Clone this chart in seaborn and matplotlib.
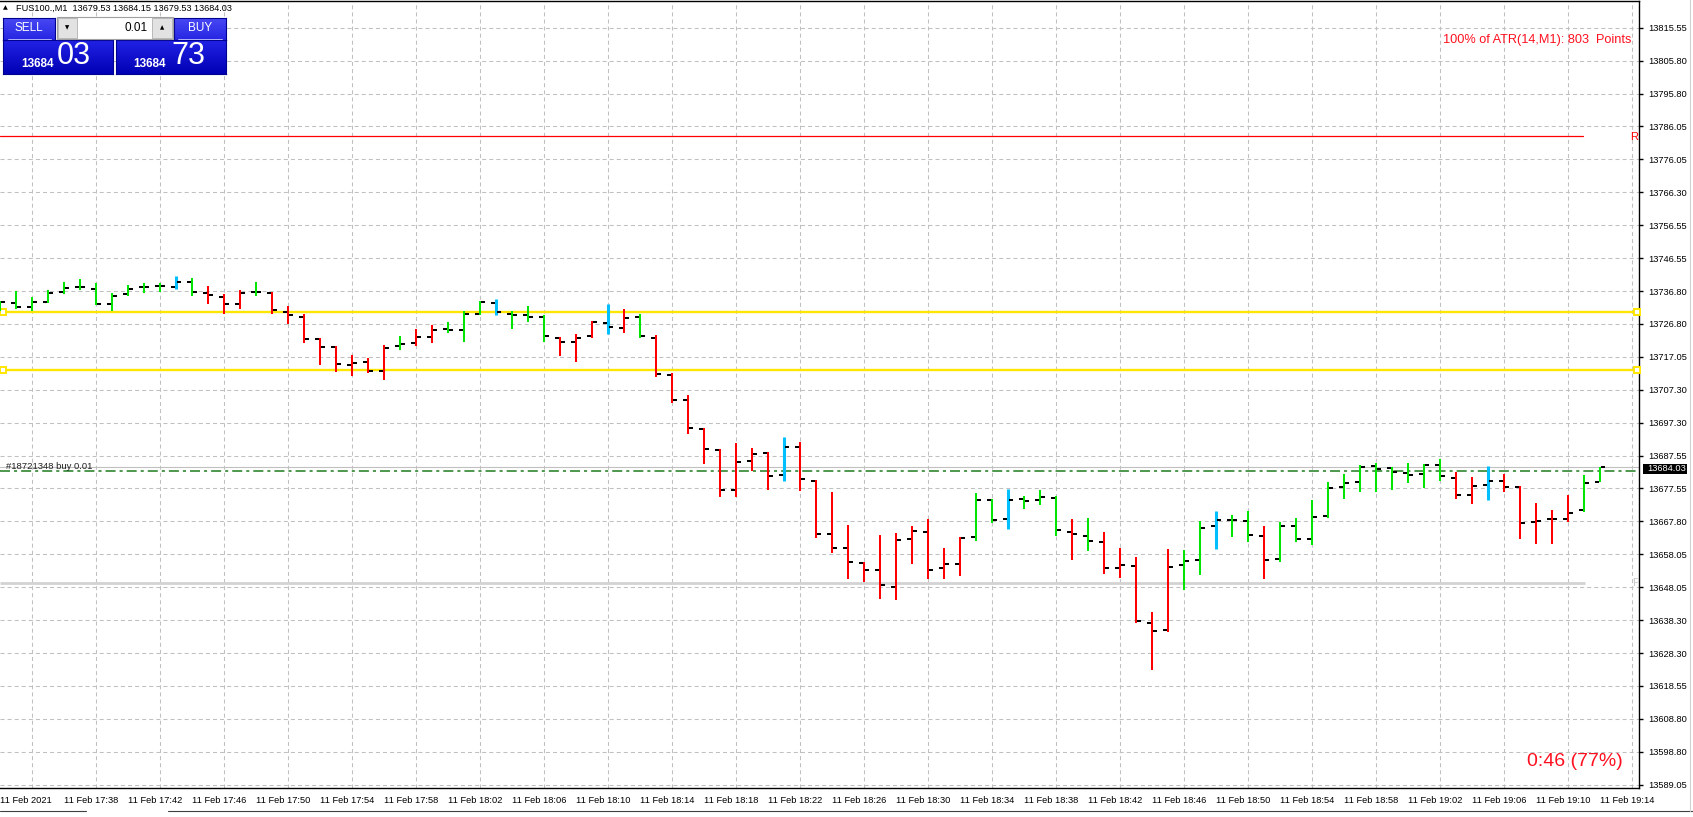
import numpy as np
import pandas as pd
import matplotlib
matplotlib.use("Agg")
import matplotlib.pyplot as plt
from matplotlib.patches import Rectangle
from matplotlib.colors import LinearSegmentedColormap
import seaborn as sns

# ---------------- data ----------------
OPEN = [13732.6, 13733.3, 13732.1, 13733.6, 13736.5, 13738.0, 13737.4, 13733.0, 13735.9, 13738.0,
        13738.4, 13738.0, 13739.5, 13736.2, 13735.1, 13733.0, 13736.5, 13736.2, 13730.6, 13729.1,
        13722.4, 13720.1, 13714.7, 13715.6, 13712.8, 13720.4, 13721.2, 13723.0, 13725.4, 13725.1,
        13730.0, 13733.2, 13730.0, 13729.7, 13729.0, 13722.8, 13721.6, 13723.3, 13727.3, 13725.8,
        13729.1, 13722.7, 13711.6, 13704.1, 13695.4, 13689.1, 13677.2, 13685.9, 13688.3, 13681.7,
        13690.0, 13679.9, 13664.0, 13659.8, 13655.3, 13653.2, 13648.1, 13662.6, 13664.7, 13653.8,
        13655.0, 13663.1, 13674.2, 13668.5, 13674.5, 13674.2, 13674.8, 13664.6, 13663.4, 13661.6,
        13653.8, 13654.4, 13637.4, 13635.3, 13654.7, 13656.2, 13666.4, 13668.2, 13667.9, 13663.4,
        13656.5, 13666.4, 13662.5, 13669.4, 13678.1, 13679.6, 13684.4, 13683.8, 13682.3, 13682.0,
        13684.7, 13680.8, 13675.7, 13678.7, 13679.9, 13678.1, 13667.6, 13668.5, 13668.5, 13671.2,
        13679.53]
HIGH = [13733.9, 13736.7, 13734.9, 13737.0, 13739.4, 13740.3, 13739.2, 13736.2, 13738.5, 13739.1,
        13739.1, 13741.2, 13740.6, 13738.2, 13735.9, 13737.0, 13739.4, 13736.5, 13732.3, 13730.0,
        13722.7, 13720.3, 13717.6, 13716.8, 13720.6, 13723.3, 13725.4, 13726.6, 13727.5, 13730.8,
        13733.7, 13734.3, 13730.8, 13732.3, 13729.5, 13723.0, 13723.9, 13727.8, 13732.9, 13731.4,
        13729.9, 13723.6, 13712.3, 13705.6, 13695.7, 13689.4, 13691.2, 13689.7, 13688.6, 13693.0,
        13691.5, 13680.2, 13676.6, 13666.7, 13655.6, 13663.7, 13664.3, 13666.4, 13668.5, 13659.8,
        13663.1, 13676.3, 13674.5, 13677.5, 13675.4, 13677.2, 13675.4, 13668.5, 13668.8, 13664.6,
        13659.8, 13657.1, 13640.6, 13659.5, 13659.2, 13667.9, 13670.9, 13669.7, 13670.9, 13666.4,
        13667.6, 13668.8, 13674.2, 13679.6, 13682.0, 13684.7, 13685.3, 13684.1, 13685.3, 13685.0,
        13686.5, 13682.7, 13681.1, 13684.4, 13682.0, 13678.4, 13673.3, 13671.2, 13675.7, 13681.7,
        13684.15]
LOW = [13730.9, 13731.3, 13730.9, 13733.1, 13736.0, 13737.2, 13732.5, 13730.9, 13735.4, 13736.2,
       13736.5, 13737.3, 13735.4, 13733.0, 13730.0, 13731.5, 13735.4, 13730.0, 13726.9, 13721.3,
       13714.6, 13712.6, 13711.3, 13712.3, 13710.1, 13719.2, 13720.3, 13721.3, 13724.3, 13721.6,
       13729.5, 13729.5, 13725.4, 13727.5, 13721.6, 13717.3, 13715.6, 13722.8, 13724.0, 13724.3,
       13722.8, 13711.1, 13703.3, 13693.9, 13685.0, 13675.2, 13675.2, 13682.8, 13677.2, 13679.8,
       13676.9, 13662.8, 13658.3, 13650.5, 13649.6, 13644.5, 13644.2, 13655.0, 13650.5, 13650.5,
       13651.4, 13661.9, 13667.3, 13665.5, 13671.5, 13672.7, 13663.4, 13656.2, 13658.9, 13652.0,
       13650.8, 13637.4, 13623.3, 13634.7, 13647.2, 13651.7, 13659.6, 13663.1, 13661.6, 13650.5,
       13655.6, 13661.6, 13660.7, 13668.8, 13674.5, 13676.6, 13676.6, 13677.2, 13679.3, 13677.8,
       13679.9, 13674.5, 13673.0, 13674.3, 13676.6, 13662.5, 13661.0, 13661.0, 13667.6, 13670.6,
       13679.53]
CLOSE = [13733.6, 13732.1, 13733.6, 13736.2, 13737.7, 13738.0, 13733.0, 13735.4, 13737.4, 13738.0,
         13738.4, 13739.5, 13736.5, 13735.6, 13733.0, 13736.2, 13736.5, 13731.1, 13729.7, 13722.4,
         13720.0, 13715.0, 13715.2, 13712.8, 13719.7, 13720.9, 13723.0, 13725.1, 13725.1, 13729.8,
         13733.4, 13730.5, 13729.7, 13729.0, 13723.3, 13721.6, 13722.8, 13727.6, 13726.1, 13728.8,
         13723.3, 13711.9, 13704.1, 13695.7, 13689.5, 13677.2, 13685.6, 13688.0, 13681.4, 13690.0,
         13680.5, 13664.0, 13659.8, 13655.6, 13653.2, 13648.7, 13662.2, 13665.0, 13653.2, 13655.0,
         13662.8, 13674.2, 13668.2, 13674.2, 13673.9, 13675.1, 13665.2, 13664.0, 13661.9, 13653.8,
         13654.7, 13638.0, 13635.0, 13654.1, 13655.9, 13665.8, 13668.2, 13668.2, 13663.7, 13656.2,
         13666.4, 13662.5, 13669.1, 13677.8, 13679.3, 13684.1, 13683.5, 13682.6, 13681.7, 13684.7,
         13681.4, 13675.7, 13678.4, 13679.9, 13678.1, 13667.3, 13667.9, 13668.5, 13670.3, 13679.3,
         13684.03]
BAR_COLOR = list("gggggggggg" "gbgrrrgrrr" "rrrrrgrrgg" "gbgggrrrbr" "grrrrrrrrb"
                 "rrrrrrrrrr" "rggbgggrgr" "rrrrggbggr" "gggggggggg" "grrbrrrrrg" "g")

X_TICK_LABELS = ["11 Feb 2021", "11 Feb 17:38", "11 Feb 17:42", "11 Feb 17:46", "11 Feb 17:50",
                 "11 Feb 17:54", "11 Feb 17:58", "11 Feb 18:02", "11 Feb 18:06", "11 Feb 18:10",
                 "11 Feb 18:14", "11 Feb 18:18", "11 Feb 18:22", "11 Feb 18:26", "11 Feb 18:30",
                 "11 Feb 18:34", "11 Feb 18:38", "11 Feb 18:42", "11 Feb 18:46", "11 Feb 18:50",
                 "11 Feb 18:54", "11 Feb 18:58", "11 Feb 19:02", "11 Feb 19:06", "11 Feb 19:10",
                 "11 Feb 19:14"]
Y_TICK_LABELS = ["13815.55", "13805.80", "13795.80", "13786.05", "13776.05", "13766.30",
                 "13756.55", "13746.55", "13736.80", "13726.80", "13717.05", "13707.30",
                 "13697.30", "13687.55", "13677.55", "13667.80", "13658.05", "13648.05",
                 "13638.30", "13628.30", "13618.55", "13608.80", "13598.80", "13589.05"]

RESIST_LEVEL = 13783.05
YELLOW_LEVELS = [13730.56, 13713.15]
BID = 13684.03
ORDER_LEVEL = 13682.8
PIVOT_LEVEL = 13649.4

# ---------------- style ----------------
sns.set_theme(style="white")
plt.rcParams["font.family"] = ["Liberation Sans", "DejaVu Sans"]
plt.rcParams["lines.scale_dashes"] = False

PALETTE = {"g": "#00E600", "r": "#FF0000", "b": "#00BFFF"}
YELLOW = "#FFE600"

W, H = 1693, 817
fig = plt.figure(figsize=(W / 100, H / 100), dpi=100)
fig.patch.set_facecolor("white")

AX_RIGHT_PX = 1639
AX_BOTTOM_PX = 788
ax = fig.add_axes([0, (H - AX_BOTTOM_PX) / H, AX_RIGHT_PX / W, (AX_BOTTOM_PX - 1) / H])
ax.set_facecolor("white")

BAR_PX = 16.0
BAR0_PX = 0.4


def px2x(px):
    return (px - BAR0_PX) / BAR_PX


def ftext(x, y, s, **kw):
    return fig.text(x / W, 1 - y / H, s, **kw)


def frect(x0, y0, x1, y1, **kw):
    r = Rectangle((x0 / W, 1 - y1 / H), (x1 - x0) / W, (y1 - y0) / H,
                  transform=fig.transFigure, **kw)
    fig.add_artist(r)
    return r


# y scale: evenly spaced tick labels
top_val = float(Y_TICK_LABELS[0])
step = (float(Y_TICK_LABELS[0]) - float(Y_TICK_LABELS[-1])) / (len(Y_TICK_LABELS) - 1)
px_per_price = 32.914 / step
TOP_LABEL_PX = 27.7
y_hi = top_val + (TOP_LABEL_PX - 1) / px_per_price
y_lo = top_val - (AX_BOTTOM_PX - TOP_LABEL_PX) / px_per_price
ax.set_ylim(y_lo, y_hi)
ax.set_xlim(px2x(0), px2x(AX_RIGHT_PX))

ytick_pos = [top_val - k * step for k in range(len(Y_TICK_LABELS))]
ax.yaxis.tick_right()
ax.set_yticks(ytick_pos)
ax.set_yticklabels(Y_TICK_LABELS)

n = len(OPEN)
ax.set_xticks(np.arange(0, n, 4))
ax.set_xticklabels(X_TICK_LABELS, ha="left")
ax.set_xticks(np.arange(0, n + 2, 2), minor=True)

ax.tick_params(axis="x", which="major", direction="out", length=3.5, width=1,
               pad=2, labelsize=6.7, colors="black")
ax.tick_params(axis="x", which="minor", length=0)
ax.tick_params(axis="y", direction="out", length=3, width=1, pad=3.5,
               labelsize=6.7, colors="black")
for lab in ax.get_yticklabels():
    lab.set_horizontalalignment("left")

ax.grid(True, which="minor", axis="x", color="#C0C0C0", lw=0.75, ls=(0, (2.9, 2.2)))
ax.grid(True, which="major", axis="y", color="#C0C0C0", lw=0.75, ls=(0, (2.9, 2.2)))
ax.grid(False, which="major", axis="x")
ax.set_axisbelow(True)

for side in ["top", "right", "bottom"]:
    ax.spines[side].set_visible(True)
    ax.spines[side].set_color("black")
    ax.spines[side].set_linewidth(1.0)
ax.spines["left"].set_visible(False)

# ---------------- horizontal objects ----------------
ax.plot([px2x(0), px2x(1583)], [RESIST_LEVEL] * 2, color="red", lw=0.9, zorder=2)
ax.plot([px2x(0), px2x(1585)], [PIVOT_LEVEL] * 2, color="#D3D3D3", lw=2.0, zorder=2,
        solid_capstyle="butt")
ax.axhline(BID, color="#C0C0C0", lw=0.8, zorder=2)
ax.axhline(ORDER_LEVEL, color="#1E7B1E", lw=1.1, ls=(0, (7.2, 2.9, 2.2, 2.9)), zorder=2)
for lvl in YELLOW_LEVELS:
    ax.axhline(lvl, color=YELLOW, lw=1.7, zorder=2)
    ax.plot([px2x(3), px2x(1637)], [lvl, lvl], ls="none", marker="s", ms=4.6,
            mfc="white", mec=YELLOW, mew=1.4, clip_on=False, zorder=3)

# ---------------- OHLC bars ----------------
seg_rows = []
for i in range(n):
    seg_rows.append(dict(bar=i, x=i, price=LOW[i], kind=BAR_COLOR[i]))
    seg_rows.append(dict(bar=i, x=i, price=HIGH[i], kind=BAR_COLOR[i]))
seg = pd.DataFrame(seg_rows)
for kind, lw in [("g", 1.45), ("r", 1.45), ("b", 2.2)]:
    sub = seg[seg["kind"] == kind]
    sns.lineplot(data=sub, x="x", y="price", units="bar", estimator=None, sort=False,
                 color=PALETTE[kind], lw=lw, ax=ax, legend=False,
                 solid_capstyle="butt", zorder=4)

tick_rows = []
for i in range(n):
    tick_rows.append(dict(unit=f"o{i}", x=i - 0.31, price=OPEN[i]))
    tick_rows.append(dict(unit=f"o{i}", x=i - 0.06, price=OPEN[i]))
    tick_rows.append(dict(unit=f"c{i}", x=i + 0.04, price=CLOSE[i]))
    tick_rows.append(dict(unit=f"c{i}", x=i + 0.29, price=CLOSE[i]))
ticks = pd.DataFrame(tick_rows)
sns.lineplot(data=ticks, x="x", y="price", units="unit", estimator=None, sort=False,
             color="black", lw=1.45, ax=ax, legend=False, solid_capstyle="butt", zorder=5)
ax.set_xlabel("")
ax.set_ylabel("")

# ---------------- chart texts ----------------
ax.text(px2x(6), ORDER_LEVEL, "#18721348 buy 0.01", fontsize=6.8, color="#202020",
        ha="left", va="bottom")
ax.text(px2x(1632), PIVOT_LEVEL, "PP", fontsize=8, color="#C8C8C8", ha="left",
        va="center", clip_on=True)
ftext(1634, 137, "R", fontsize=8, color="red", ha="center", va="center")
ftext(1631, 39.5, "100% of ATR(14,M1): 803  Points", fontsize=9.2, color="#FF1020",
      ha="right", va="center")
ftext(1623, 762, "0:46 (77%)", fontsize=14, color="#FF1020", ha="right", va="center")

# current price label on axis
frect(1643, 464, 1687, 473.5, facecolor="black", edgecolor="none")
ftext(1647, 468.7, f"{BID:.2f}", fontsize=6.7, color="white", ha="left", va="center")

# header
ftext(5, 8, "\u25B2", fontsize=4.5, color="black", ha="center", va="center",
      family=["DejaVu Sans"])
ftext(16, 8, "FUS100.,M1  13679.53 13684.15 13679.53 13684.03", fontsize=6.6,
      color="black", ha="left", va="center")


# ---------------- one-click trading panel ----------------
def grad_box(x0, y0, x1, y1, ctop, cbot, edge="#000090"):
    a = fig.add_axes([x0 / W, 1 - y1 / H, (x1 - x0) / W, (y1 - y0) / H])
    cmap = LinearSegmentedColormap.from_list("g", [cbot, ctop])
    a.imshow(np.linspace(0, 1, 50).reshape(-1, 1)[::-1], aspect="auto", cmap=cmap,
             extent=[0, 1, 0, 1])
    a.set_xticks([])
    a.set_yticks([])
    for s in a.spines.values():
        s.set_color(edge)
        s.set_linewidth(0.8)
    return a


grad_box(3, 18, 55, 40, "#4848F4", "#2626E4")
grad_box(174, 18, 226, 40, "#4848F4", "#2626E4")
grad_box(3, 40, 113, 74, "#2222E6", "#0000B4")
grad_box(116, 40, 226, 74, "#2222E6", "#0000B4")

frect(57, 17, 173, 38.5, facecolor="white", edgecolor="#A0A0A0", lw=0.8)
frect(58, 18, 77, 37.5, facecolor="#E2E2E2", edgecolor="#B0B0B0", lw=0.6)
frect(152, 18, 172, 37.5, facecolor="#E2E2E2", edgecolor="#B0B0B0", lw=0.6)
ftext(67.5, 27.5, "\u25BC", fontsize=4, color="black", ha="center", va="center",
      family=["DejaVu Sans"])
ftext(162, 27.5, "\u25B2", fontsize=4, color="black", ha="center", va="center",
      family=["DejaVu Sans"])
ftext(148, 27.8, "0.01", fontsize=8.5, color="black", ha="right", va="center")

ftext(29, 28, "SELL", fontsize=8.5, color="white", ha="center", va="center")
ftext(200, 28, "BUY", fontsize=8.5, color="white", ha="center", va="center")
fig.add_artist(plt.Line2D([8 / W, 51 / W], [1 - 38.5 / H] * 2, color="#C8C8FF", lw=0.6,
                          transform=fig.transFigure))
fig.add_artist(plt.Line2D([178 / W, 222 / W], [1 - 38.5 / H] * 2, color="#C8C8FF", lw=0.6,
                          transform=fig.transFigure))

ftext(38, 64, "13684", fontsize=8.5, color="white", ha="center", va="center",
      fontweight="bold")
ftext(74, 55.5, "03", fontsize=22, color="white", ha="center", va="center")
ftext(150, 64, "13684", fontsize=8.5, color="white", ha="center", va="center",
      fontweight="bold")
ftext(188, 55.5, "73", fontsize=22, color="white", ha="center", va="center")

# ---------------- bottom tab bar / window frame ----------------
fig.add_artist(plt.Line2D([0, 86 / W], [1 - 811 / H] * 2, color="#404040", lw=0.8,
                          transform=fig.transFigure))
fig.add_artist(plt.Line2D([168 / W, 1], [1 - 811 / H] * 2, color="#404040", lw=0.8,
                          transform=fig.transFigure))
fig.add_artist(plt.Line2D([1690 / W] * 2, [1 - 811 / H, 1], color="#D0D0D0", lw=0.8,
                          transform=fig.transFigure))

fig.savefig("out.png", dpi=100, facecolor="white")
